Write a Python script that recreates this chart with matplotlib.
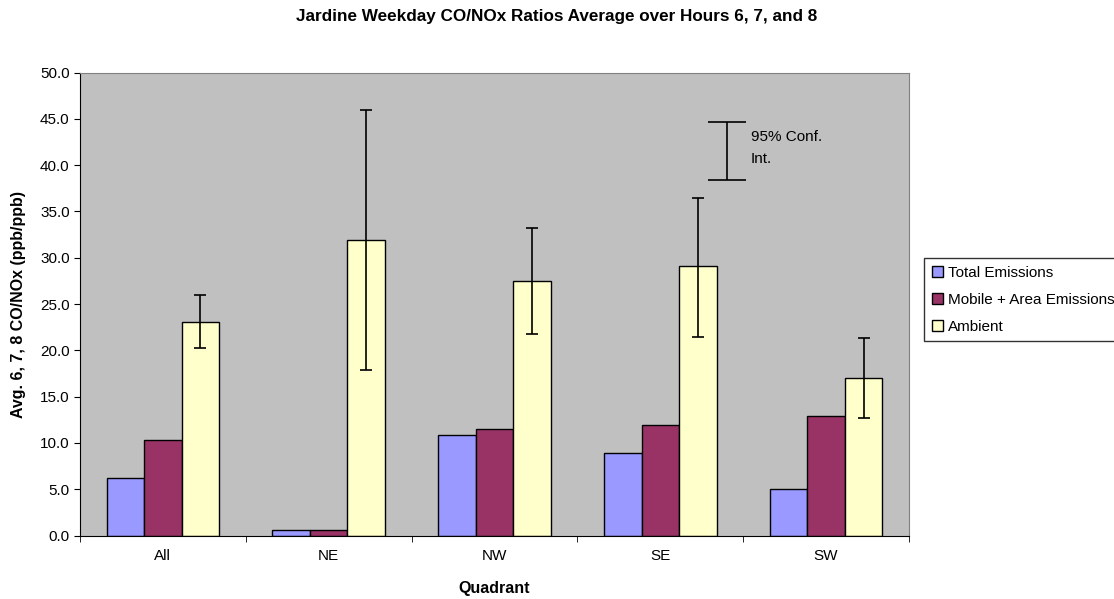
import matplotlib.pyplot as plt
import numpy as np

plt.rcParams['font.family'] = ['Liberation Sans', 'DejaVu Sans']

quadrants = ["All", "NE", "NW", "SE", "SW"]
total_emissions = [6.2, 0.6, 10.9, 8.9, 5.0]
mobile_area = [10.3, 0.6, 11.5, 11.9, 12.9]
ambient = [23.1, 31.9, 27.5, 29.1, 17.0]
ci_low = [20.2, 17.9, 21.8, 21.4, 12.7]
ci_high = [26.0, 46.0, 33.2, 36.5, 21.3]

fig = plt.figure(figsize=(11.14, 5.99), dpi=100)
ax = fig.add_axes([80 / 1114, 1 - 535.5 / 599, 829 / 1114, 463 / 599])
ax.set_facecolor("#c0c0c0")

x = np.arange(len(quadrants))
w = 0.226
err = [np.array(ambient) - np.array(ci_low), np.array(ci_high) - np.array(ambient)]

ax.bar(x - w, total_emissions, w, color="#9999ff", edgecolor="black", linewidth=1, label="Total Emissions")
ax.bar(x, mobile_area, w, color="#993366", edgecolor="black", linewidth=1, label="Mobile + Area Emissions")
ax.bar(x + w, ambient, w, color="#ffffcc", edgecolor="black", linewidth=1, label="Ambient")
ax.errorbar(x + w, ambient, yerr=err, fmt="none", ecolor="black", elinewidth=1.2, capsize=4, capthick=1.2)

# conf. interval key drawn inside the plot
ax.errorbar([0.780], [41.55], yerr=[[3.15], [3.15]], fmt="none", ecolor="black",
            elinewidth=1.2, capsize=14, capthick=1.2, transform=ax.get_yaxis_transform())
ax.text(0.809, 43.8, "95% Conf.\nInt.", transform=ax.get_yaxis_transform(),
        fontsize=11, va="top", ha="left", linespacing=1.75)

ax.set_xlim(-0.5, 4.5)
ax.set_ylim(0, 50)
ax.set_yticks(np.arange(0, 50.1, 5))
ax.set_yticklabels([f"{v:.1f}" for v in np.arange(0, 50.1, 5)], fontsize=11)
ax.set_xticks(x)
ax.set_xticklabels(quadrants, fontsize=11)
ax.set_xticks(np.arange(-0.5, 4.6, 1), minor=True)
ax.tick_params(axis="x", which="major", length=0, pad=10)
ax.tick_params(axis="x", which="minor", length=4, direction="out")
ax.tick_params(axis="y", length=4, direction="out")

for s in ["top", "right"]:
    ax.spines[s].set_color("#808080")
ax.spines["left"].set_color("black")
ax.spines["bottom"].set_color("black")

ax.set_xlabel("Quadrant", fontsize=11.5, fontweight="bold", labelpad=13)
ax.set_ylabel("Avg. 6, 7, 8 CO/NOx (ppb/ppb)", fontsize=11.5, fontweight="bold", labelpad=10)
fig.text(0.5, 1 - 17 / 599, "Jardine Weekday CO/NOx Ratios Average over Hours 6, 7, and 8",
         ha="center", va="center", fontsize=12.3, fontweight="bold")

leg = fig.legend(loc="upper left", bbox_to_anchor=(924 / 1114, 1 - 258 / 599), fontsize=11,
                 frameon=True, fancybox=False, edgecolor="black", handlelength=0.75,
                 handleheight=0.75, handletextpad=0.3, labelspacing=0.85, borderpad=0.5,
                 borderaxespad=0)
leg.get_frame().set_linewidth(1)

fig.savefig("out.png", dpi=100)
